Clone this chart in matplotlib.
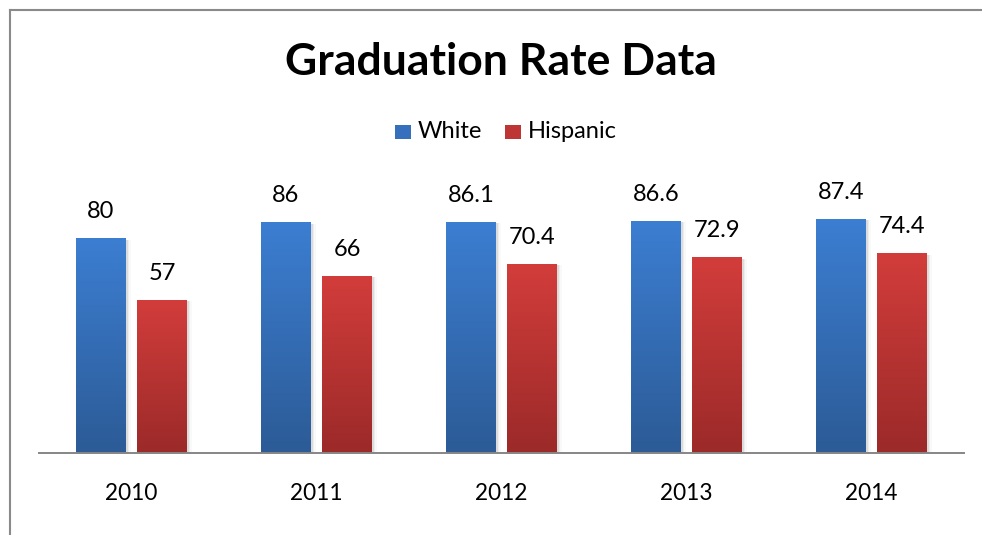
import numpy as np
import matplotlib
matplotlib.use("Agg")
import matplotlib.pyplot as plt
from matplotlib.patches import Rectangle
from matplotlib.colors import LinearSegmentedColormap
from matplotlib.lines import Line2D

years = ["2010", "2011", "2012", "2013", "2014"]
white = [80, 86, 86.1, 86.6, 87.4]
hispanic = [57, 66, 70.4, 72.9, 74.4]
value_labels_white = ["80", "86", "86.1", "86.6", "87.4"]
value_labels_hisp = ["57", "66", "70.4", "72.9", "74.4"]
series_names = ["White", "Hispanic"]

FONT = "Lato"
W, H = 982, 535
fig = plt.figure(figsize=(W / 100, H / 100), dpi=100)

def fx(px):
    return px / W

def fy(py):
    return 1 - py / H

# axes placement (pixels)
ax_left, ax_right, ax_base, ax_top = 39, 964, 453, 185.5
ax = fig.add_axes([fx(ax_left), fy(ax_base), fx(ax_right - ax_left), (ax_base - ax_top) / H])
ax.set_xlim(-0.5, len(years) - 0.5)
ax.set_ylim(0, 100)
for s in ["top", "left", "right"]:
    ax.spines[s].set_visible(False)
ax.spines["bottom"].set_color("#868686")
ax.spines["bottom"].set_linewidth(1.4)
ax.spines["bottom"].set_zorder(5)
ax.set_yticks([])
ax.set_xticks([])

blue_cmap = LinearSegmentedColormap.from_list("b", ["#2c5b96", "#3c7ed2"])
red_cmap = LinearSegmentedColormap.from_list("r", ["#9b2a29", "#d23d3b"])
grad = np.linspace(0, 1, 256).reshape(-1, 1)

bw = 0.27
off = 0.165

def gbar(xc, h, cmap):
    x0, x1 = xc - bw / 2, xc + bw / 2
    # soft shadow
    for k, a in [(0.010, 0.07), (0.018, 0.045), (0.026, 0.025)]:
        ax.add_patch(Rectangle((x0 + k, 0), bw, h - 0.3, facecolor="black",
                               alpha=a, edgecolor="none", zorder=1))
    ax.imshow(grad, cmap=cmap, extent=[x0, x1, 0, h], origin="lower",
              aspect="auto", zorder=2, interpolation="bilinear")

for i in range(len(years)):
    gbar(i - off, white[i], blue_cmap)
    gbar(i + off, hispanic[i], red_cmap)
    ax.annotate(value_labels_white[i], (i - off, white[i]), xytext=(0, 19.5),
                textcoords="offset points", ha="center", va="center",
                fontsize=17, family=FONT, color="#000000")
    ax.annotate(value_labels_hisp[i], (i + off, hispanic[i]), xytext=(0, 19.5),
                textcoords="offset points", ha="center", va="center",
                fontsize=17, family=FONT, color="#000000")
    ax.annotate(years[i], (i, 0), xytext=(0, -29.5), textcoords="offset points",
                ha="center", va="center", fontsize=16.3, family=FONT,
                color="#000000", annotation_clip=False)
ax.set_xlim(-0.5, len(years) - 0.5)
ax.set_ylim(0, 100)

# title
fig.text(fx(501), fy(62), "Graduation Rate Data", ha="center", va="center",
         fontsize=32, fontweight="bold", family=FONT, color="#000000")

# legend (manual)
fig.patches.append(Rectangle((fx(395), fy(139)), fx(16), 14 / H, transform=fig.transFigure,
                             facecolor="#3670bd", edgecolor="none"))
fig.text(fx(418), fy(132), series_names[0], ha="left", va="center",
         fontsize=17, family=FONT, color="#000000")
fig.patches.append(Rectangle((fx(505), fy(139)), fx(16), 14 / H, transform=fig.transFigure,
                             facecolor="#bd3635", edgecolor="none"))
fig.text(fx(528), fy(132), series_names[1], ha="left", va="center",
         fontsize=17, family=FONT, color="#000000")

# outer border
fig.lines.append(Line2D([fx(9.5), 1], [fy(9.5), fy(9.5)], transform=fig.transFigure,
                        color="#8a8a8a", linewidth=1.5))
fig.lines.append(Line2D([fx(9.5), fx(9.5)], [fy(9.5), 0], transform=fig.transFigure,
                        color="#8a8a8a", linewidth=1.5))

fig.savefig("out.png", dpi=100)
